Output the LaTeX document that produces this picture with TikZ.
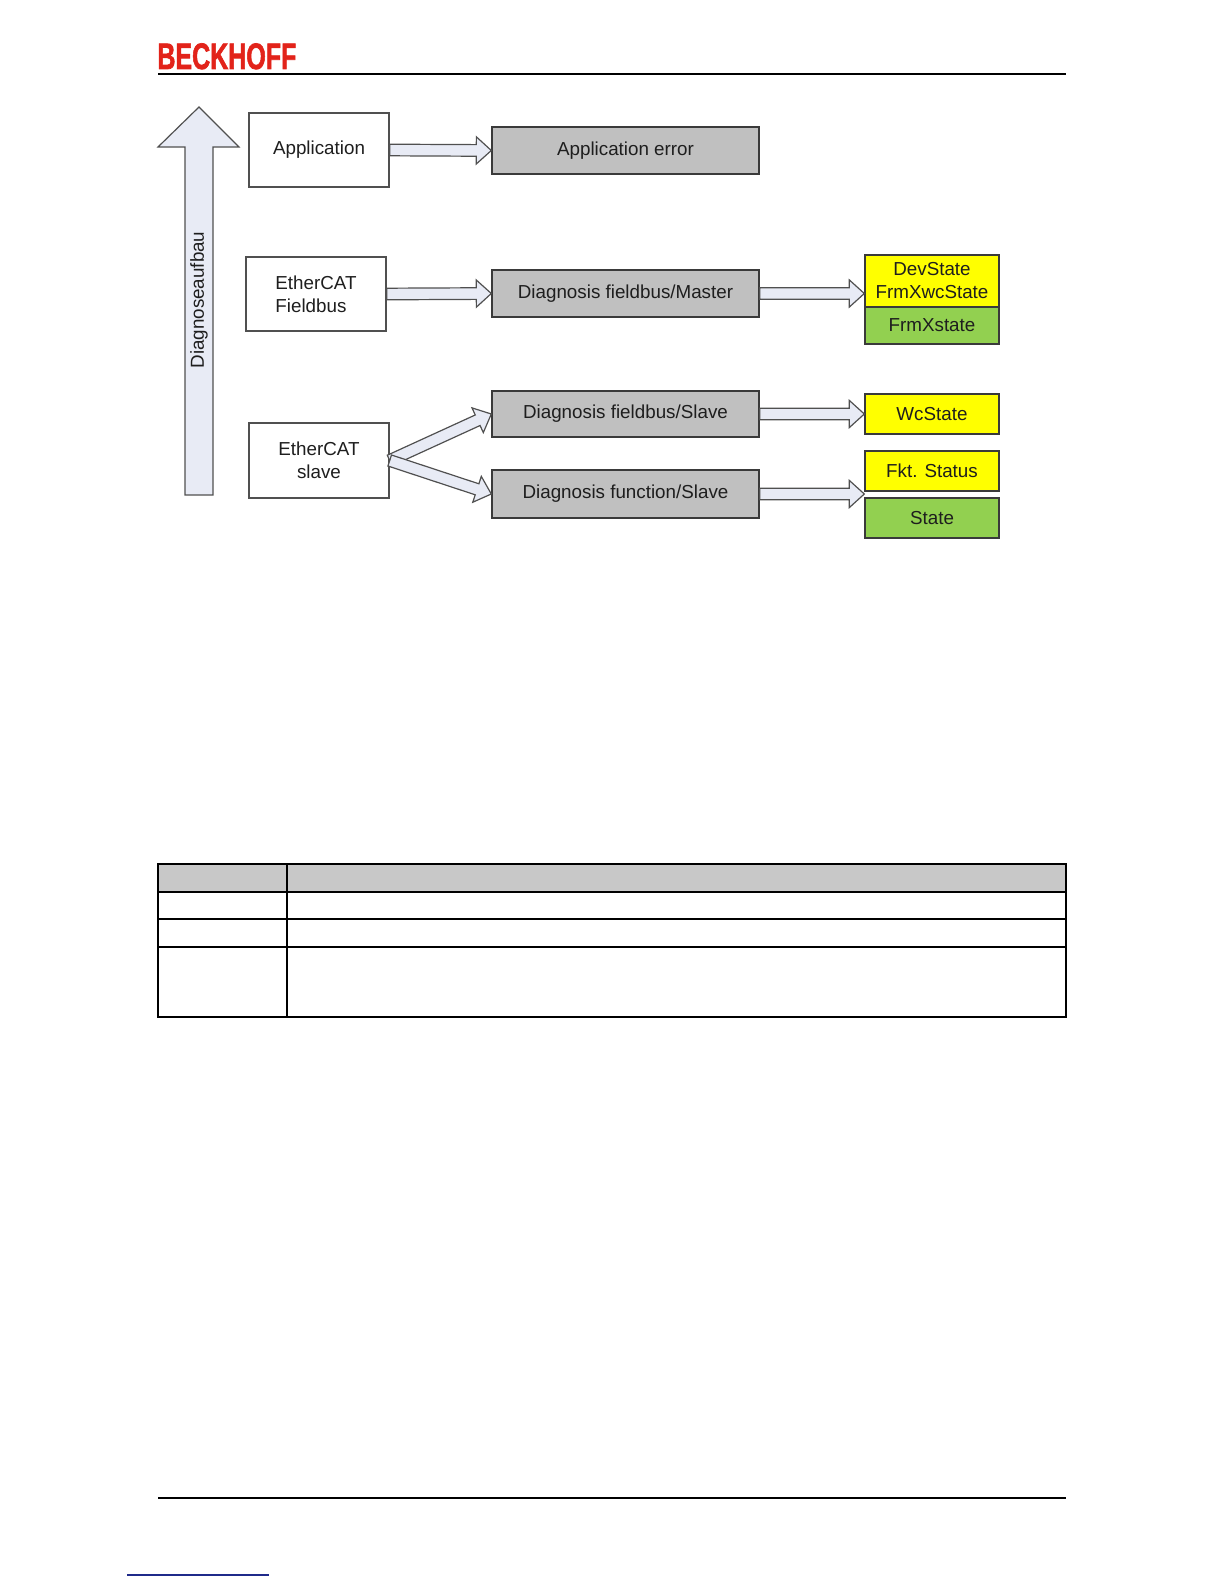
\documentclass[tikz,border=0pt]{standalone}
\usepackage{fontspec}
\setmainfont{Liberation Sans}
\newfontfamily\logofont{Liberation Sans}[BoldFeatures={FakeBold=2}]
\definecolor{bkRed}{HTML}{E2231A}
\definecolor{bkText}{HTML}{1E1E1E}
\definecolor{bkLine}{HTML}{505050}
\definecolor{bkDark}{HTML}{3A3A3A}
\definecolor{bkArrow}{HTML}{E8EBF5}
\definecolor{bkGrey}{HTML}{C0C0C0}
\definecolor{bkYellow}{HTML}{FFFF00}
\definecolor{bkGreen}{HTML}{92D050}
\definecolor{bkHead}{HTML}{C8C8C8}
\definecolor{bkLink}{HTML}{1F2A8A}
\usetikzlibrary{calc}
\newcommand{\diagfont}{\fontsize{9.4}{11.5}\selectfont}
\tikzset{
  layerbox/.style={draw=bkLine, line width=0.7pt, fill=white, minimum width=70pt, minimum height=37pt, font=\diagfont, text=bkText},
  diagbox/.style={draw=bkDark, line width=0.7pt, fill=bkGrey, minimum width=133.5pt, minimum height=23.5pt, font=\diagfont, text=bkText},
  statebox/.style={draw=bkDark, line width=0.7pt, minimum width=67pt, minimum height=20pt, font=\diagfont, text=bkText},
  fatline/.style={draw=bkLine, fill=bkArrow, line width=0.6pt, line join=miter},
  tblline/.style={line width=0.7pt, black}
}
\newcommand{\fatarrow}[2]{%
  \path (#1) coordinate (fa1) (#2) coordinate (fa2) ($(fa2)!7.5pt!(fa1)$) coordinate (fa3);
  \draw[fatline] ($(fa1)!2.9pt!90:(fa2)$) -- ($(fa3)!2.9pt!90:(fa2)$) -- ($(fa3)!6.8pt!90:(fa2)$) -- (fa2)
    -- ($(fa3)!6.8pt!-90:(fa2)$) -- ($(fa3)!2.9pt!-90:(fa2)$) -- ($(fa1)!2.9pt!-90:(fa2)$) -- cycle;}

\begin{document}
\begin{tikzpicture}[x=0.5pt, y=-0.5pt]
  \useasboundingbox (0,0) rectangle (1224,1584);
  \node[font=\logofont\bfseries\fontsize{18.4}{20}\selectfont, text=bkRed, anchor=base west, inner sep=0] (logo) at (157,69) {\scalebox{0.68}[1]{BECKHOFF}};
  \draw[line width=1pt] (158,74) -- (1066,74);

  \draw[fatline] (185,495) -- (185,147) -- (158,147) -- (199,107) -- (239,147) -- (213,147) -- (213,495) -- cycle;
  \node[rotate=90, font=\diagfont, text=bkText] (axislabel) at (199,300) {Diagnoseaufbau};

  \node[layerbox] (app) at (319,150) {Application};
  \node[layerbox, align=left] (fieldbus) at (316,294) {EtherCAT\\Fieldbus};
  \node[layerbox, align=center, minimum height=37.5pt] (slave) at (319,460.5) {EtherCAT\\slave};

  \node[diagbox] (apperr) at (625.5,150.5) {Application error};
  \node[diagbox] (master) at (625.5,293.5) {Diagnosis fieldbus/Master};
  \node[diagbox, minimum height=23pt] (diagslave) at (625.5,414) {Diagnosis fieldbus/Slave};
  \node[diagbox, minimum height=24pt] (function) at (625.5,494) {Diagnosis function/Slave};

  \node[statebox, fill=bkYellow, minimum height=26pt, inner sep=1pt, align=center] (devstate) at (932,281) {DevState\\FrmXwcState};
  \node[statebox, fill=bkGreen, minimum height=18.5pt] (frmx) at (932,325.5) {FrmXstate};
  \node[statebox, fill=bkYellow] (wcstate) at (932,414) {WcState};
  \node[statebox, fill=bkYellow] (fkt) at (932,471) {Fkt. Status};
  \node[statebox, fill=bkGreen] (state) at (932,518) {State};

  \fatarrow{app.east}{apperr.west}
  \fatarrow{fieldbus.east}{master.west}
  \fatarrow{master.east}{master.east -| devstate.west}
  \fatarrow{slave.east}{diagslave.west}
  \fatarrow{slave.east}{function.west}
  \fatarrow{diagslave.east}{wcstate.west}
  \fatarrow{function.east}{function.east -| fkt.west}

  \fill[bkHead] (158,864) rectangle (1066,892);
  \draw[tblline] (158,864) rectangle (1066,1017);
  \foreach \ry in {892,919,947}
    \draw[tblline] (158,\ry) -- (1066,\ry);
  \draw[tblline] (287,864) -- (287,1017);

  \draw[line width=1pt] (158,1498) -- (1066,1498);
  \draw[bkLink, line width=0.9pt] (127,1575) -- (269,1575);
\end{tikzpicture}
\end{document}
